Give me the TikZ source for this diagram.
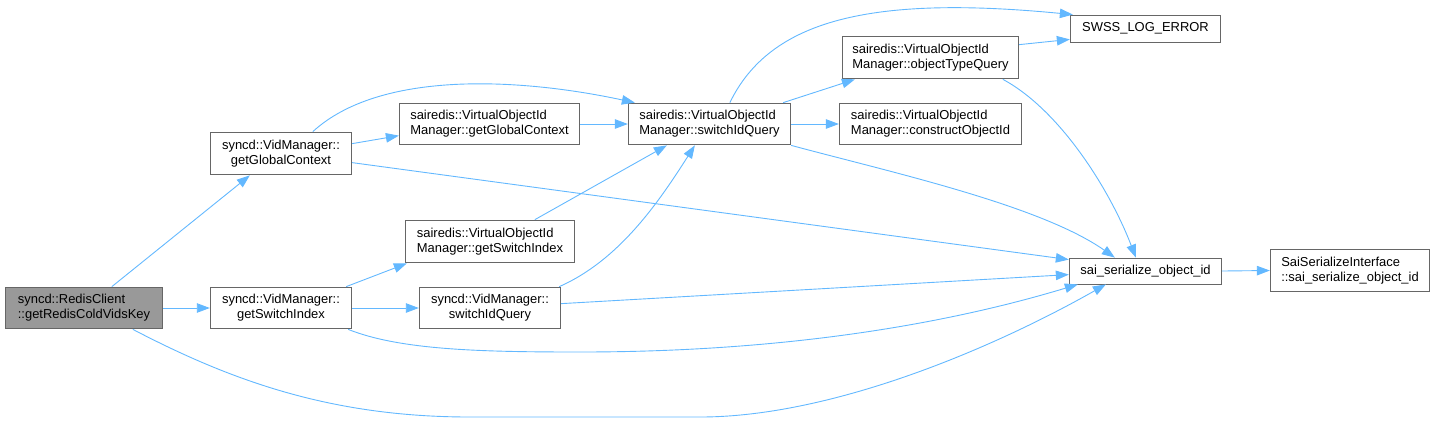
\documentclass[tikz,border=0pt]{standalone}
\usepackage{fontspec}
\setmainfont{Liberation Sans}
\usetikzlibrary{arrows.meta,calc}
\definecolor{edgec}{HTML}{63B8FF}
\definecolor{boxc}{HTML}{666666}
\definecolor{fillc}{HTML}{999999}
\tikzset{
  x=1bp, y=-1bp,
  box/.style={draw=boxc, line width=0.9bp, fill=white, inner sep=0pt, font=\fontsize{13}{15}\selectfont, text=black},
  lbox/.style={box, align=left},
  cbox/.style={box, align=center},
  edge/.style={draw=edgec, line width=0.9bp, -{Triangle[length=13bp,width=9.5bp]}},
}
\newcommand{\bx}[7]{% name, style, x1,y1,x2,y2, text
  \node[#2, minimum width={#5-#3}, minimum height={#6-#4}] (#1) at ({(#3+#5)/2},{(#4+#6)/2}) {#7};}
\begin{document}
\begin{tikzpicture}
\useasboundingbox (0,0) rectangle (1436,423);
\bx{A}{lbox,fill=fillc}{5}{287}{163}{329}{syncd::RedisClient\\::getRedisColdVidsKey}
\bx{B}{cbox}{210}{132}{352}{175}{syncd::VidManager::\\getGlobalContext}
\bx{C}{cbox}{210}{287}{352}{329}{syncd::VidManager::\\getSwitchIndex}
\bx{D}{lbox}{399}{103}{580}{145}{sairedis::VirtualObjectId\\Manager::getGlobalContext}
\bx{E}{lbox}{628}{103}{791}{145}{sairedis::VirtualObjectId\\Manager::switchIdQuery}
\bx{F}{lbox}{405}{220}{575}{263}{sairedis::VirtualObjectId\\Manager::getSwitchIndex}
\bx{G}{cbox}{419}{287}{561}{329}{syncd::VidManager::\\switchIdQuery}
\bx{H}{cbox}{1070}{15}{1221}{42}{SWSS\_LOG\_ERROR}
\bx{I}{lbox}{842}{36}{1019}{79}{sairedis::VirtualObjectId\\Manager::objectTypeQuery}
\bx{J}{lbox}{839}{103}{1022}{145}{sairedis::VirtualObjectId\\Manager::constructObjectId}
\bx{K}{cbox}{1069}{258}{1222}{284}{sai\_serialize\_object\_id}
\bx{L}{lbox}{1270}{249}{1430}{292}{SaiSerializeInterface\\::sai\_serialize\_object\_id}

\draw[edge] ($(A.north west)+(107,0)$) -- ($(B.south west)+(40,0)$);
\draw[edge] (A.east) -- (C.west);
\draw[edge] ($(A.south west)+(128,0)$) .. controls (230,380) and (330,417) .. (470,417) -- (700,417) .. controls (830,417) and (990,350) .. ($(K.south west)+(37,0)$);
\draw[edge] ($(B.north east)+(0,12)$) -- ($(D.north west)+(0,33)$);
\draw[edge] ($(B.north west)+(103,0)$) .. controls (380,70) and (520,78) .. ($(E.north west)+(7,0)$);
\draw[edge] ($(B.north east)+(0,31)$) -- ($(K.north west)+(0,2)$);
\draw[edge] ($(C.north east)+(-6,0)$) -- ($(F.south west)+(2,0)$);
\draw[edge] (C.east) -- (G.west);
\draw[edge] ($(C.south east)+(-4,0)$) .. controls (400,350) and (480,352) .. (580,352) .. controls (800,352) and (960,320) .. ($(K.south west)+(9,0)$);
\draw[edge] (D.east) -- (E.west);
\draw[edge] ($(F.north west)+(130,0)$) -- ($(E.south west)+(39,0)$);
\draw[edge] ($(G.north east)+(-2,0)$) .. controls (620,260) and (660,200) .. ($(E.south west)+(67,0)$);
\draw[edge] ($(G.north east)+(0,17)$) -- ($(K.north west)+(0,17)$);
\draw[edge] ($(E.north west)+(102,0)$) .. controls (770,20) and (870,-5) .. ($(H.north west)+(3,0)$);
\draw[edge] ($(E.north east)+(-8,0)$) -- ($(I.south west)+(13,0)$);
\draw[edge] (E.east) -- (J.west);
\draw[edge] (E.south east) .. controls (890,172) and (1040,205) .. ($(K.north west)+(46,0)$);
\draw[edge] ($(I.north east)+(0,9)$) -- ($(H.south west)+(0,-3)$);
\draw[edge] ($(I.south west)+(161,0)$) .. controls (1060,110) and (1110,190) .. ($(K.north west)+(67,0)$);
\draw[edge] (K.east) -- (L.west);
\end{tikzpicture}
\end{document}
